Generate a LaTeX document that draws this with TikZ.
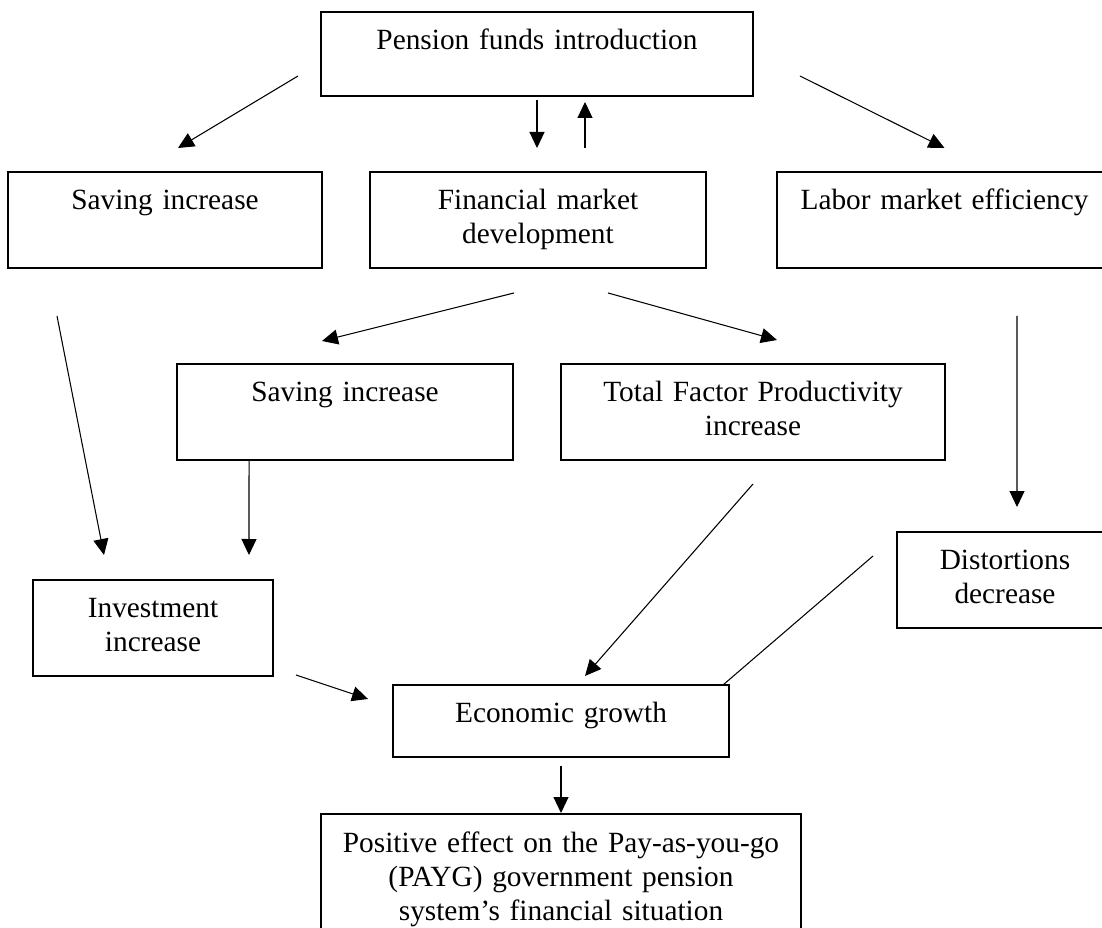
\documentclass[tikz,border=0pt]{standalone}
\usepackage{fontspec}
\setmainfont{Liberation Serif}
\usetikzlibrary{arrows.meta}

\begin{document}
\begin{tikzpicture}[x=0.02cm,y=-0.02cm,
        box/.style={draw,line width=0.75pt,inner xsep=0pt,inner ysep=0pt,outer sep=0pt,anchor=north,align=center,
            font=\fontsize{16.7pt}{19.1pt}\selectfont,text height=0.76cm,text depth=1.16cm},
        arr/.style={line width=0.6pt,arrows={-Triangle[length=0.32cm,width=0.3cm]}}]
            \useasboundingbox (0,0) rectangle (1102,928);
            \clip (0,0) rectangle (1102,928);

            \node[box,text width=8.64cm,text height=0.75cm,text depth=0.93cm] (intro) at (537,12) {Pension funds introduction};

            \node[box,text width=6.28cm] (saveL) at (165,172) {Saving increase};
            \node[box,text width=6.72cm] (finmkt) at (538,172) {Financial market\\development};
            \node[box,text width=6.7cm] (labor) at (944.5,172) {Labor market efficiency};

            \node[box,text width=6.72cm] (saveM) at (345,364) {Saving increase};
            \node[box,text width=7.68cm] (tfp) at (753,364) {Total Factor Productivity\\increase};

            \node[box,text width=4.8cm] (invest) at (153,580) {Investment\\increase};
            \node[box,text width=4.32cm] (distort) at (1005,532) {Distortions\\decrease};

            \node[box,text width=6.72cm,text depth=0.68cm] (growth) at (561,685) {Economic growth};
            \node[box,text width=9.6cm,text height=0.78cm,text depth=1.8cm] (payg) at (561,814) {Positive effect on the Pay-as-you-go\\(PAYG) government pension\\system’s financial situation};


            \draw[arr] ([shift={(-23,-20)}]intro.south west) -- ([shift={(13,-24)}]saveL.north);
            \draw[arr] ([shift={(0,4)}]intro.south) -- ([shift={(-1,-24)}]finmkt.north);
            \draw[arr] ([shift={(47,-24)}]finmkt.north) -- ([shift={(48,6)}]intro.south);
            \draw[arr] ([shift={(47,-20)}]intro.south east) -- ([shift={(0,-24)}]labor.north);

            \draw[arr] ([shift={(-24,25)}]finmkt.south) -- ([shift={(-23,-23)}]saveM.north);
            \draw[arr] ([shift={(70,25)}]finmkt.south) -- ([shift={(24,-24)}]tfp.north);

            \draw[arr] ([shift={(-108,48)}]saveL.south) -- ([shift={(-49,-25)}]invest.north);
            \draw[arr] ([shift={(72,0)}]saveM.south west) -- ([shift={(-24,-25)}]invest.north east);
            \draw[arr] ([shift={(72.5,48)}]labor.south) -- ([shift={(12,-25)}]distort.north);

            \draw[arr] ([shift={(0,24)}]tfp.south) -- ([shift={(24,-9)}]growth.north);
            \draw[line width=0.6pt] ([shift={(-24,-24)}]distort.west) -- ([shift={(-6,0)}]growth.north east);
            \draw[arr] ([shift={(23,-1)}]invest.south east) -- ([shift={(-25,-22)}]growth.west);
            \draw[arr] ([shift={(0,9)}]growth.south) -- ([shift={(0,-1)}]payg.north);
        \end{tikzpicture}
\end{document}
